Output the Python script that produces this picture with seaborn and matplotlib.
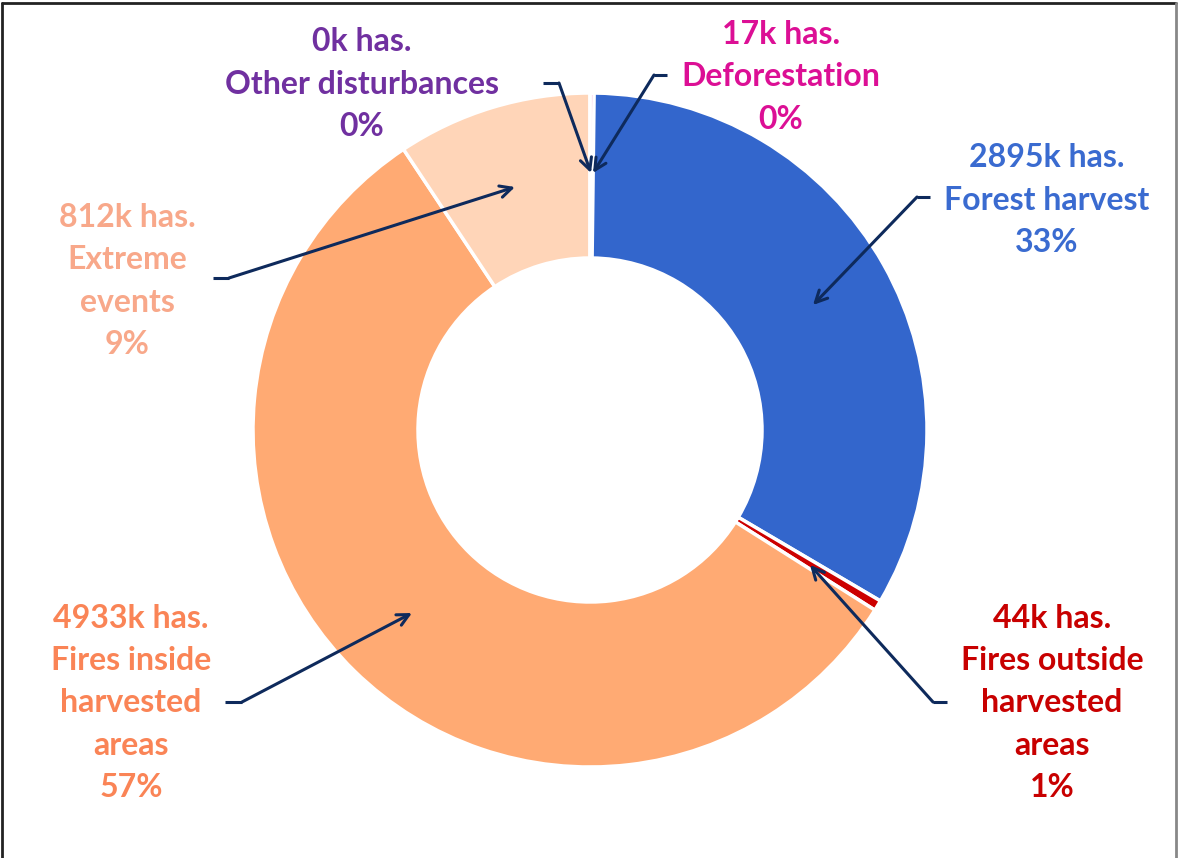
import matplotlib.pyplot as plt
import seaborn as sns
from matplotlib.lines import Line2D

sns.set_theme(style="white")
plt.rcParams['font.family'] = ['Lato', 'DejaVu Sans']

# data (thousand hectares), clockwise from the top
categories = ['Deforestation', 'Forest harvest', 'Fires outside\nharvested\nareas',
              'Fires inside\nharvested\nareas', 'Extreme\nevents', 'Other disturbances']
areas_k = [17, 2895, 44, 4933, 812, 0]
pct_labels = ['0%', '33%', '1%', '57%', '9%', '0%']

wedge_colors = ['#D81B9A', '#3366CC', '#CC0000', '#FFAA73', '#FFD5B8', '#7030A0']
text_colors = ['#DC0F95', '#3A6BD0', '#C80000', '#FA8456', '#F8A88A', '#7030A0']

# label placement in pixel coords (x, y of text centre), elbow start, elbow bend, arrow tip
label_pos = [(781, 77), (1047, 200), (1052, 703), (131, 703), (127, 281), (362, 84)]
arrows = [
    [(667, 75), (654, 75), (593, 173)],
    [(930, 197), (917, 197), (813, 305)],
    [(947, 702), (933, 702), (810, 565)],
    [(225, 702), (242, 702), (412, 613)],
    [(213, 278), (229, 278), (515, 187)],
    [(543, 83), (559, 83), (591, 173)],
]

W, H = 1178, 858
fig = plt.figure(figsize=(W / 100, H / 100), dpi=100)
ax = fig.add_axes([0, 0, 1, 1])
ax.axis('off')


def fy(y):
    return H - y


ax.pie(areas_k, colors=wedge_colors, startangle=90, counterclock=False,
       center=(590, fy(430)), radius=337,
       wedgeprops=dict(width=337 - 172, edgecolor='white', linewidth=2.5))
ax.set_aspect('equal')
ax.set_xlim(0, W)
ax.set_ylim(0, H)

for cat, val, pct, col, (tx, ty) in zip(categories, areas_k, pct_labels, text_colors, label_pos):
    txt = f'{val}k has.\n{cat}\n{pct}'
    ax.text(tx, fy(ty), txt, ha='center', va='center', color=col,
            fontsize=23, fontweight='bold', linespacing=1.55)

arrow_col = '#0E2A5C'
for (x0, y0), (x1, y1), (x2, y2) in arrows:
    ax.plot([x0, x1], [fy(y0), fy(y1)], color=arrow_col, lw=2.2, solid_capstyle='butt')
    ax.annotate('', xy=(x2, fy(y2)), xytext=(x1, fy(y1)),
                arrowprops=dict(arrowstyle='->,head_length=0.7,head_width=0.35',
                                color=arrow_col, lw=2.2, shrinkA=0, shrinkB=0))

# frame around the picture
fig.add_artist(Line2D([0.002, 0.998], [0.997, 0.997], transform=fig.transFigure, color='#222222', lw=2))
fig.add_artist(Line2D([0.002, 0.002], [0.0, 0.997], transform=fig.transFigure, color='#222222', lw=2))
fig.add_artist(Line2D([0.998, 0.998], [0.0, 0.997], transform=fig.transFigure, color='#888888', lw=2))

fig.savefig('out.png', dpi=100)
